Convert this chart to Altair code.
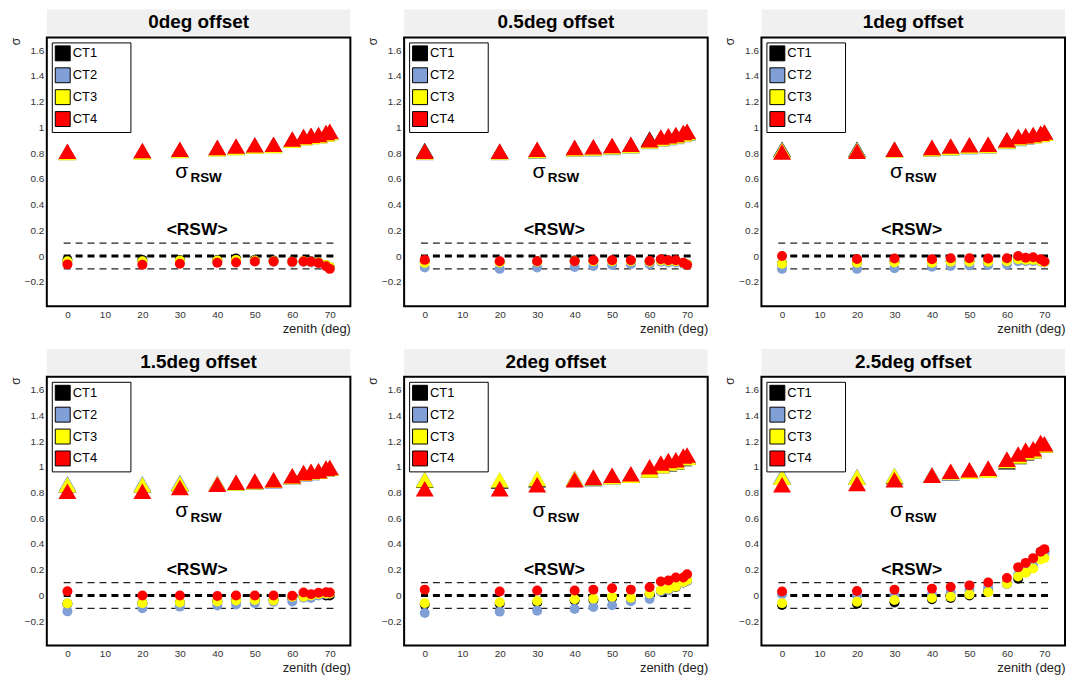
import altair as alt
import pandas as pd

FONT = "Liberation Sans"

ZENITH = [0, 20, 30, 40, 45, 50, 55, 60, 63, 65, 67, 69, 70]
CTS = ["CT1", "CT2", "CT3", "CT4"]
COLORS = ["#000000", "#7f9fd6", "#ffff00", "#ff0000"]
TITLES = ["0deg offset", "0.5deg offset", "1deg offset",
          "1.5deg offset", "2deg offset", "2.5deg offset"]
Y_TICKS = [-0.2, 0, 0.2, 0.4, 0.6, 0.8, 1.0, 1.2, 1.4, 1.6]
X_TICKS = [0, 10, 20, 30, 40, 50, 60, 70]
REF_LEVELS = [-0.1, 0.0, 0.1]
ANNOT = ["σ", "RSW", "<RSW>"]

# sigma_RSW (triangles), per CT1..CT4
SIGMA_0 = [
    [0.81, 0.815, 0.825, 0.84, 0.85, 0.86, 0.865, 0.905, 0.925, 0.935, 0.94, 0.955, 0.965],
    [0.805, 0.81, 0.82, 0.835, 0.845, 0.855, 0.86, 0.9, 0.92, 0.93, 0.935, 0.95, 0.96],
    [0.805, 0.81, 0.82, 0.835, 0.845, 0.855, 0.86, 0.9, 0.92, 0.93, 0.935, 0.95, 0.96],
    [0.815, 0.82, 0.83, 0.845, 0.855, 0.865, 0.87, 0.91, 0.93, 0.94, 0.945, 0.96, 0.97],
]
SIGMA_05 = [
    [0.82, 0.815, 0.825, 0.84, 0.845, 0.855, 0.865, 0.91, 0.92, 0.93, 0.94, 0.955, 0.965],
    [0.805, 0.805, 0.815, 0.83, 0.835, 0.845, 0.855, 0.89, 0.91, 0.92, 0.93, 0.945, 0.955],
    [0.81, 0.81, 0.82, 0.835, 0.84, 0.85, 0.86, 0.895, 0.915, 0.925, 0.935, 0.95, 0.96],
    [0.815, 0.815, 0.83, 0.845, 0.85, 0.86, 0.87, 0.905, 0.925, 0.935, 0.945, 0.96, 0.97],
]
SIGMA_1 = [
    [0.83, 0.83, 0.83, 0.84, 0.85, 0.86, 0.865, 0.9, 0.925, 0.93, 0.94, 0.95, 0.96],
    [0.825, 0.825, 0.825, 0.83, 0.84, 0.85, 0.855, 0.89, 0.915, 0.925, 0.935, 0.945, 0.955],
    [0.82, 0.82, 0.825, 0.835, 0.845, 0.855, 0.86, 0.895, 0.92, 0.93, 0.935, 0.945, 0.955],
    [0.81, 0.815, 0.83, 0.845, 0.855, 0.865, 0.87, 0.905, 0.93, 0.935, 0.945, 0.955, 0.965],
]
SIGMA_15 = [
    [0.86, 0.86, 0.87, 0.87, 0.875, 0.885, 0.895, 0.925, 0.95, 0.96, 0.965, 0.985, 0.99],
    [0.87, 0.87, 0.88, 0.875, 0.875, 0.885, 0.89, 0.925, 0.945, 0.955, 0.965, 0.985, 0.995],
    [0.86, 0.86, 0.87, 0.87, 0.875, 0.885, 0.895, 0.925, 0.95, 0.96, 0.965, 0.985, 0.99],
    [0.81, 0.81, 0.84, 0.865, 0.88, 0.89, 0.9, 0.93, 0.955, 0.965, 0.97, 0.99, 0.995],
]
SIGMA_2 = [
    [0.895, 0.89, 0.9, 0.905, 0.91, 0.925, 0.935, 0.975, 1.01, 1.025, 1.035, 1.065, 1.075],
    [0.905, 0.9, 0.91, 0.915, 0.915, 0.93, 0.94, 0.98, 1.015, 1.03, 1.04, 1.07, 1.08],
    [0.9, 0.9, 0.91, 0.91, 0.915, 0.925, 0.935, 0.975, 1.01, 1.03, 1.04, 1.07, 1.075],
    [0.83, 0.83, 0.86, 0.9, 0.92, 0.935, 0.947, 1.0, 1.03, 1.05, 1.055, 1.085, 1.093],
]
SIGMA_25 = [
    [0.92, 0.92, 0.925, 0.935, 0.955, 0.97, 0.98, 1.04, 1.08, 1.11, 1.125, 1.18, 1.17],
    [0.93, 0.925, 0.935, 0.94, 0.955, 0.97, 0.985, 1.05, 1.09, 1.12, 1.13, 1.18, 1.175],
    [0.92, 0.92, 0.93, 0.935, 0.96, 0.965, 0.975, 1.05, 1.085, 1.115, 1.125, 1.175, 1.17],
    [0.86, 0.87, 0.9, 0.935, 0.965, 0.977, 0.99, 1.06, 1.1, 1.13, 1.14, 1.19, 1.18],
]

# <RSW> (circles), per CT1..CT4
MEAN_0 = [
    [-0.03, -0.03, -0.03, -0.03, -0.02, -0.03, -0.035, -0.04, -0.04, -0.04, -0.05, -0.07, -0.085],
    [-0.05, -0.05, -0.05, -0.045, -0.04, -0.04, -0.045, -0.05, -0.045, -0.05, -0.055, -0.075, -0.09],
    [-0.04, -0.04, -0.035, -0.035, -0.03, -0.035, -0.04, -0.045, -0.04, -0.045, -0.05, -0.07, -0.085],
    [-0.065, -0.068, -0.06, -0.052, -0.05, -0.042, -0.042, -0.045, -0.042, -0.045, -0.055, -0.08, -0.1],
]
MEAN_05 = [
    [-0.04, -0.045, -0.04, -0.035, -0.035, -0.035, -0.035, -0.04, -0.03, -0.035, -0.04, -0.055, -0.065],
    [-0.09, -0.1, -0.09, -0.085, -0.078, -0.07, -0.063, -0.063, -0.045, -0.05, -0.05, -0.06, -0.07],
    [-0.055, -0.05, -0.045, -0.04, -0.04, -0.04, -0.04, -0.045, -0.035, -0.04, -0.04, -0.055, -0.065],
    [-0.03, -0.04, -0.04, -0.04, -0.033, -0.033, -0.033, -0.038, -0.025, -0.033, -0.033, -0.053, -0.07],
]
MEAN_1 = [
    [-0.06, -0.05, -0.045, -0.045, -0.04, -0.04, -0.04, -0.035, -0.02, -0.025, -0.025, -0.035, -0.045],
    [-0.1, -0.1, -0.095, -0.083, -0.078, -0.073, -0.07, -0.066, -0.04, -0.04, -0.04, -0.045, -0.05],
    [-0.06, -0.053, -0.05, -0.053, -0.045, -0.045, -0.045, -0.04, -0.025, -0.03, -0.03, -0.04, -0.048],
    [0.0, -0.023, -0.02, -0.025, -0.018, -0.018, -0.02, -0.018, 0.0, -0.013, -0.01, -0.025, -0.043],
]
MEAN_15 = [
    [-0.065, -0.06, -0.055, -0.045, -0.04, -0.035, -0.035, -0.02, -0.005, -0.005, 0.005, 0.0, 0.0],
    [-0.124, -0.1, -0.087, -0.078, -0.07, -0.06, -0.05, -0.048, -0.018, -0.02, 0.0, 0.01, 0.015],
    [-0.063, -0.06, -0.055, -0.048, -0.04, -0.035, -0.04, -0.01, -0.01, 0.0, 0.01, 0.015, 0.015],
    [0.033, 0.0, 0.0, -0.005, 0.0, 0.0, 0.0, -0.003, 0.022, 0.01, 0.02, 0.025, 0.022],
]
MEAN_2 = [
    [-0.07, -0.065, -0.055, -0.04, -0.035, -0.02, -0.025, 0.01, 0.035, 0.045, 0.065, 0.1, 0.115],
    [-0.136, -0.126, -0.12, -0.106, -0.09, -0.077, -0.045, -0.028, 0.03, 0.04, 0.07, 0.1, 0.115],
    [-0.06, -0.053, -0.043, -0.03, -0.025, -0.01, -0.018, 0.015, 0.04, 0.052, 0.07, 0.105, 0.12],
    [0.045, 0.03, 0.038, 0.038, 0.045, 0.055, 0.045, 0.063, 0.108, 0.116, 0.14, 0.14, 0.165],
]
MEAN_25 = [
    [-0.075, -0.065, -0.055, -0.03, -0.02, 0.0, 0.03, 0.09, 0.13, 0.18, 0.22, 0.34, 0.34],
    [0.01, 0.0, 0.0, 0.01, 0.02, 0.04, 0.063, 0.088, 0.16, 0.2, 0.23, 0.3, 0.32],
    [-0.06, -0.05, -0.035, -0.02, -0.01, 0.008, 0.025, 0.09, 0.147, 0.177, 0.21, 0.28, 0.29],
    [0.03, 0.035, 0.045, 0.053, 0.065, 0.078, 0.1, 0.135, 0.22, 0.253, 0.29, 0.34, 0.36],
]

SIGMAS = [SIGMA_0, SIGMA_05, SIGMA_1, SIGMA_15, SIGMA_2, SIGMA_25]
MEANS = [MEAN_0, MEAN_05, MEAN_1, MEAN_15, MEAN_2, MEAN_25]

PW, PH, TH = 305, 270, 26
PAD_CHARS = "\u2800" * 3


def panel_df(sig, mean):
    rows = []
    for k, ct in enumerate(CTS):
        for z, s, m in zip(ZENITH, sig[k], mean[k]):
            rows.append({"ct": ct, "k": k, "zenith": z, "sigma": s, "mean": m})
    return pd.DataFrame(rows)


def make_panel(title, sig, mean):
    df = panel_df(sig, mean)
    xs = alt.Scale(domain=[-5.5, 75.5], nice=False, zero=False)
    ys = alt.Scale(domain=[-0.39, 1.70], nice=False, zero=False)
    xaxis = alt.Axis(values=X_TICKS, title="zenith (deg)", titleAnchor="end",
                     ticks=False, domain=False, grid=False, labelPadding=3,
                     titlePadding=3, labelFontSize=10, titleFontSize=13,
                     titleFontWeight="normal", labelColor="#333", titleColor="#222",
                     labelFont=FONT, titleFont=FONT, labelOverlap=False)
    yaxis = alt.Axis(values=Y_TICKS, title="σ", titleAnchor="end", format=".1~f",
                     ticks=False, domain=False, grid=False, labelPadding=3,
                     titlePadding=2, labelFontSize=10, titleFontSize=12,
                     titleFontWeight="normal", labelColor="#333", titleColor="#222",
                     labelFont=FONT, titleFont=FONT, labelOverlap=False)
    legend = alt.Legend(title=None, orient="top-left", offset=5,
                        symbolType="square", symbolSize=225,
                        symbolStrokeColor="black", symbolStrokeWidth=1,
                        labelFontSize=13, labelColor="black", labelFont=FONT,
                        labelOffset=2, padding=3, rowPadding=2,
                        strokeColor="black", fillColor="white",
                        labelExpr="datum.label + '" + PAD_CHARS + "'")
    color = alt.Color("ct:N", scale=alt.Scale(domain=CTS, range=COLORS), legend=legend)

    base = alt.Chart(df)
    ref = pd.DataFrame({"level": REF_LEVELS})
    tri = base.mark_point(shape="triangle-up", filled=True, size=324, opacity=1,
                          strokeWidth=0).encode(
        x=alt.X("zenith:Q", scale=xs, axis=xaxis),
        y=alt.Y("sigma:Q", scale=ys, axis=yaxis),
        color=color, order=alt.Order("k:Q"))
    thin = alt.Chart(ref).transform_filter("datum.level != 0").mark_rule(
        color="#222", strokeWidth=1.2, strokeDash=[7, 5]).encode(
        x=alt.XDatum(-1, scale=xs, axis=xaxis), x2=alt.X2Datum(71.2),
        y=alt.Y("level:Q", scale=ys, axis=yaxis))
    thick = alt.Chart(ref).transform_filter("datum.level == 0").mark_rule(
        color="black", strokeWidth=3, strokeDash=[7, 5]).encode(
        x=alt.XDatum(-1, scale=xs, axis=xaxis), x2=alt.X2Datum(71.2),
        y=alt.Y("level:Q", scale=ys, axis=yaxis))
    circ = base.mark_circle(size=100, opacity=1).encode(
        x=alt.X("zenith:Q", scale=xs, axis=xaxis),
        y=alt.Y("mean:Q", scale=ys, axis=yaxis),
        color=color, order=alt.Order("k:Q"))
    adf = pd.DataFrame({"t": ANNOT})
    sig_txt = alt.Chart(adf).transform_filter(alt.datum.t == ANNOT[0]).mark_text(
        font=FONT, fontSize=21, color="black").encode(
        x=alt.XDatum(30.5, scale=xs, axis=xaxis), y=alt.YDatum(0.655, scale=ys, axis=yaxis),
        text="t:N")
    sub_txt = alt.Chart(adf).transform_filter(alt.datum.t == ANNOT[1]).mark_text(
        font=FONT, fontSize=13.5, fontWeight="bold", color="black").encode(
        x=alt.XDatum(37.0, scale=xs, axis=xaxis), y=alt.YDatum(0.605, scale=ys, axis=yaxis),
        text="t:N")
    rsw_txt = alt.Chart(adf).transform_filter(alt.datum.t == ANNOT[2]).mark_text(
        font=FONT, fontSize=17.5, fontWeight="bold", color="black").encode(
        x=alt.XDatum(34.6, scale=xs, axis=xaxis), y=alt.YDatum(0.2, scale=ys, axis=yaxis),
        text="t:N")

    plot = alt.layer(tri, thin, thick, circ, sig_txt, sub_txt, rsw_txt).properties(
        width=PW, height=PH)

    tdf = pd.DataFrame({"t": [title]})
    tbox = alt.Chart(tdf).mark_text(font=FONT, fontSize=19, fontWeight="bold",
                                   color="black", baseline="middle").encode(
        text="t:N").properties(width=PW, height=TH,
                               view=alt.ViewBackground(fill="#f0f0f0"))
    return alt.vconcat(tbox, plot, spacing=0).resolve_scale(color="independent")


panels = [make_panel(t, s, m) for t, s, m in zip(TITLES, SIGMAS, MEANS)]
row1 = alt.hconcat(*panels[:3], spacing=14).resolve_scale(color="independent")
row2 = alt.hconcat(*panels[3:], spacing=14).resolve_scale(color="independent")
chart = alt.vconcat(row1, row2, spacing=13).resolve_scale(color="independent").properties(
    padding=0, background="white"
).configure_view(stroke="black", strokeWidth=2).configure_axis(labelOverlap=False)

chart.save("out.html", embed_options={"renderer": "svg", "actions": False})
